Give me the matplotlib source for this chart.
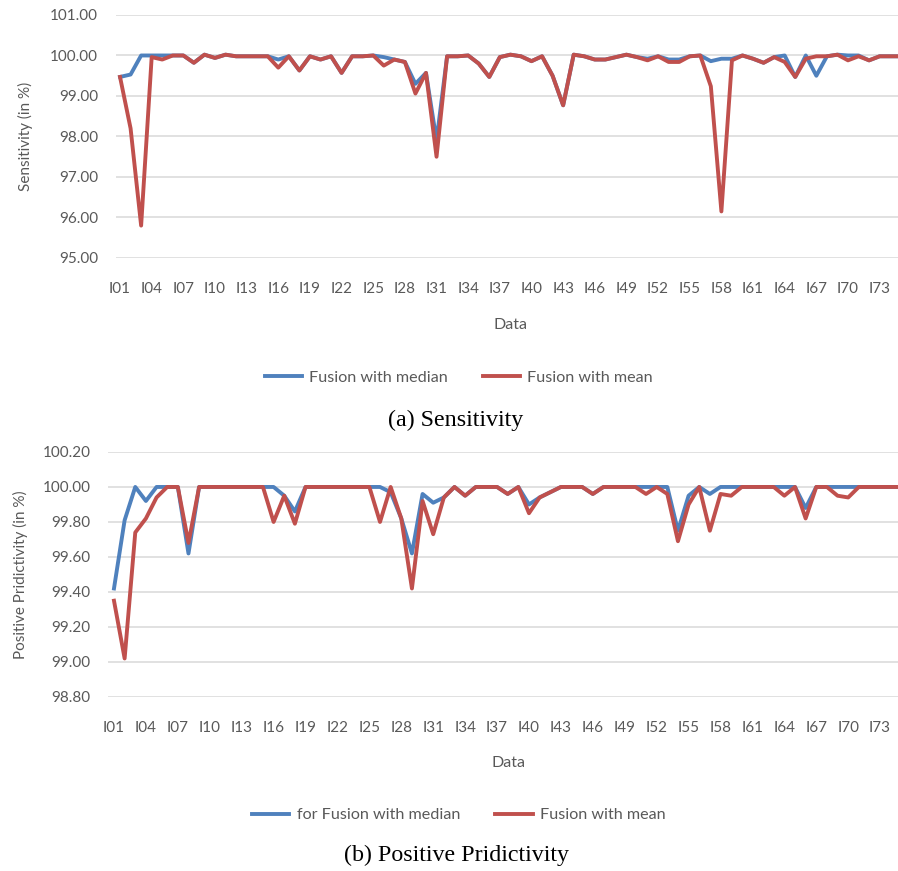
import matplotlib
matplotlib.use("Agg")
import matplotlib.pyplot as plt
from matplotlib.ticker import FormatStrFormatter

# record names I01..I75
records = ["I%02d" % n for n in range(1, 76)]

sens_median = [
    99.47, 99.53, 100.00, 100.00, 100.00, 100.00, 100.00, 99.82, 100.02, 99.94,
    100.02, 99.98, 99.98, 99.98, 99.98, 99.90, 99.98, 99.63, 99.98, 99.90,
    99.98, 99.57, 99.98, 99.98, 100.00, 99.96, 99.90, 99.84, 99.30, 99.57,
    97.90, 99.98, 99.98, 100.00, 99.80, 99.47, 99.96, 100.02, 99.98, 99.86,
    99.98, 99.50, 98.77, 100.02, 99.98, 99.90, 99.90, 99.96, 100.02, 99.96,
    99.92, 99.98, 99.90, 99.90, 99.98, 100.00, 99.86, 99.92, 99.92, 100.00,
    99.92, 99.82, 99.96, 100.00, 99.47, 100.00, 99.50, 99.98, 100.02, 100.00,
    100.00, 99.88, 99.98, 99.98, 99.98,
]
sens_mean = [
    99.47, 98.20, 95.80, 99.96, 99.90, 100.00, 100.00, 99.82, 100.02, 99.94,
    100.02, 99.98, 99.98, 99.98, 99.98, 99.70, 99.98, 99.63, 99.98, 99.90,
    99.98, 99.57, 99.98, 99.98, 100.00, 99.75, 99.90, 99.84, 99.06, 99.57,
    97.50, 99.98, 99.98, 100.00, 99.80, 99.47, 99.96, 100.02, 99.98, 99.86,
    99.98, 99.50, 98.77, 100.02, 99.98, 99.90, 99.90, 99.96, 100.02, 99.96,
    99.88, 99.98, 99.84, 99.84, 99.98, 100.00, 99.24, 96.15, 99.88, 100.00,
    99.92, 99.82, 99.96, 99.84, 99.47, 99.92, 99.98, 99.98, 100.02, 99.88,
    99.98, 99.88, 99.98, 99.98, 99.98,
]

ppv_median = [
    99.42, 99.81, 100.00, 99.92, 100.00, 100.00, 100.00, 99.62, 100.00, 100.00,
    100.00, 100.00, 100.00, 100.00, 100.00, 100.00, 99.95, 99.86, 100.00, 100.00,
    100.00, 100.00, 100.00, 100.00, 100.00, 100.00, 99.97, 99.82, 99.62, 99.96,
    99.91, 99.94, 100.00, 99.95, 100.00, 100.00, 100.00, 99.96, 100.00, 99.90,
    99.94, 99.97, 100.00, 100.00, 100.00, 99.96, 100.00, 100.00, 100.00, 100.00,
    100.00, 100.00, 100.00, 99.75, 99.95, 100.00, 99.96, 100.00, 100.00, 100.00,
    100.00, 100.00, 100.00, 100.00, 100.00, 99.88, 100.00, 100.00, 100.00, 100.00,
    100.00, 100.00, 100.00, 100.00, 100.00,
]
ppv_mean = [
    99.35, 99.02, 99.74, 99.82, 99.94, 100.00, 100.00, 99.68, 100.00, 100.00,
    100.00, 100.00, 100.00, 100.00, 100.00, 99.80, 99.95, 99.79, 100.00, 100.00,
    100.00, 100.00, 100.00, 100.00, 100.00, 99.80, 100.00, 99.82, 99.42, 99.92,
    99.73, 99.94, 100.00, 99.95, 100.00, 100.00, 100.00, 99.96, 100.00, 99.85,
    99.94, 99.97, 100.00, 100.00, 100.00, 99.96, 100.00, 100.00, 100.00, 100.00,
    99.96, 100.00, 99.96, 99.69, 99.90, 100.00, 99.75, 99.96, 99.95, 100.00,
    100.00, 100.00, 100.00, 99.95, 100.00, 99.82, 100.00, 100.00, 99.95, 99.94,
    100.00, 100.00, 100.00, 100.00, 100.00,
]

BLUE = "#4F81BD"
RED = "#C0504D"
GREY = "#595959"
GRID = "#D9D9D9"
FONT = ["Lato", "DejaVu Sans"]
LW = 2.8

plt.rcParams["font.family"] = FONT

fig = plt.figure(figsize=(8.98, 8.71), dpi=100)


def excel_axes(rect, xlim, ylim, step, ylabel, ypad, lpad):
    ax = fig.add_axes(rect)
    ax.set_xlim(*xlim)
    ax.set_ylim(*ylim)
    ax.set_yticks([ylim[0] + k * step for k in range(int(round((ylim[1] - ylim[0]) / step)) + 1)])
    ax.yaxis.set_major_formatter(FormatStrFormatter("%.2f"))
    ax.set_xticks(range(0, len(records), 3))
    ax.set_xticklabels(records[::3])
    for s in ax.spines.values():
        s.set_visible(False)
    ax.grid(axis="y", color=GRID, lw=1.1)
    ax.set_axisbelow(True)
    ax.tick_params(axis="both", length=0, labelsize=11, colors=GREY)
    ax.tick_params(axis="y", pad=ypad)
    ax.tick_params(axis="x", pad=17)
    ax.set_ylabel(ylabel, fontsize=11, color=GREY, labelpad=lpad)
    return ax


def add_legend(ax, y):
    ax.legend(loc="center", bbox_to_anchor=(0.511, y), bbox_transform=fig.transFigure,
              ncol=2, frameon=False, fontsize=11.6, handlelength=2.3, handletextpad=0.45,
              columnspacing=2.2, labelcolor=GREY)


x = list(range(len(records)))

# (a) sensitivity
ax1 = excel_axes([0.1292, 0.7038, 0.8708, 0.2790], (-0.38, 73.74), (95, 101), 1.0,
                 "Sensitivity (in %)", 13, 12)
ax1.plot(x, sens_median, color=BLUE, lw=LW, label="Fusion with median")
ax1.plot(x, sens_mean, color=RED, lw=LW, label="Fusion with mean")
fig.text(0.569, 1 - 325 / 871, "Data", ha="center", va="center", fontsize=11.5, color=GREY)
add_legend(ax1, 1 - 378 / 871)
fig.text(0.507, 1 - 420 / 871, "(a) Sensitivity", ha="center", va="center",
         fontsize=17.3, family="Liberation Serif")

# (b) positive predictivity
ax2 = excel_axes([0.1203, 0.1998, 0.8797, 0.2813], (-0.56, 73.68), (98.8, 100.2), 0.2,
                 "Positive Pridictivity (in %)", 12.5, 10.5)
ax2.plot(x, ppv_median, color=BLUE, lw=LW, label="for Fusion with median")
ax2.plot(x, ppv_mean, color=RED, lw=LW, label="Fusion with mean")
fig.text(0.566, 1 - 763 / 871, "Data", ha="center", va="center", fontsize=11.5, color=GREY)
add_legend(ax2, 1 - 815 / 871)
fig.text(0.508, 1 - 855 / 871, "(b) Positive Pridictivity", ha="center", va="center",
         fontsize=17.3, family="Liberation Serif")

fig.savefig("out.png", dpi=100)
